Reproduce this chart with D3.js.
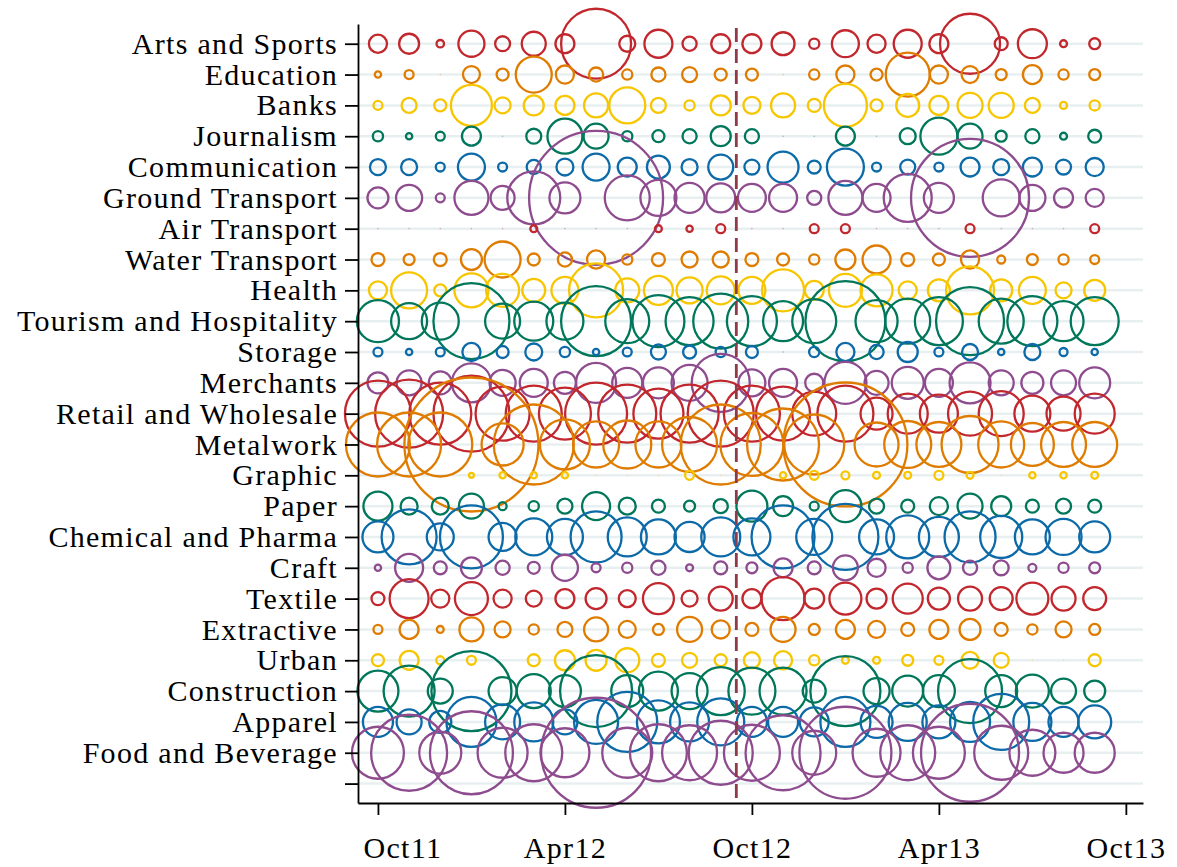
<!DOCTYPE html>
<html>
<head>
<meta charset="utf-8">
<script src="https://cdn.jsdelivr.net/npm/d3@7"></script>
<style>
  html, body { margin: 0; padding: 0; background: #ffffff; }
  svg { display: block; }
</style>
</head>
<body>
<svg id="chart" width="1177" height="867"></svg>
<script>
// Monthly activity by sector, Oct 2011 – Sep 2013 (bubble area ∝ value)
const months = ["Oct11","Nov11","Dec11","Jan12","Feb12","Mar12","Apr12","May12","Jun12","Jul12","Aug12","Sep12",
                "Oct12","Nov12","Dec12","Jan13","Feb13","Mar13","Apr13","May13","Jun13","Jul13","Aug13","Sep13"];
const tickMonths = [0, 6, 12, 18, 24];
const tickLabels = ["Oct11", "Apr12", "Oct12", "Apr13", "Oct13"];
const eventMonth = 11.5; // mid-September 2012

const categories = [
  "Arts and Sports", "Education", "Banks", "Journalism", "Communication", "Ground Transport",
  "Air Transport", "Water Transport", "Health", "Tourism and Hospitality", "Storage", "Merchants",
  "Retail and Wholesale", "Metalwork", "Graphic", "Paper", "Chemical and Pharma", "Craft",
  "Textile", "Extractive", "Urban", "Construction", "Apparel", "Food and Beverage"
];

const artsSports      = [41,50,7,85,28,72,45,612,32,98,25,45,45,66,13,91,41,98,45,450,21,105,6,15];
const education       = [5,10,0.1,36,18,162,41,25,13,25,28,18,18,0.1,13,41,18,242,41,36,15,45,13,15];
const banks           = [10,28,18,210,32,50,45,72,162,28,13,50,36,72,21,231,18,66,45,78,78,28,6,13];
const journalism      = [13,5,10,45,0.1,28,153,78,13,18,25,50,25,0.1,0.1,45,0.1,32,171,78,15,25,6,21];
const communication   = [32,32,10,91,10,25,36,91,45,66,32,78,28,120,21,171,10,28,10,45,32,45,28,41];
const groundTransport = [55,85,10,145,72,351,120,2245,253,162,113,105,98,98,25,145,98,288,113,1741,171,85,45,41];
const airTransport    = [0.1,0.1,0.1,0.1,0.1,6,0.1,0.1,0.1,6,5,10,0.1,0.1,10,10,0.1,0.1,0.1,10,0.1,0.1,0.1,10];
const waterTransport  = [21,15,21,55,162,18,25,41,13,21,32,32,21,18,13,50,98,21,18,41,8,15,13,10];
const health          = [41,162,18,145,136,66,91,365,72,105,85,98,91,221,45,136,128,41,61,288,61,91,32,55];
const tourism         = [221,162,171,722,153,190,171,613,242,338,288,378,313,200,242,800,221,253,288,578,253,313,200,288];
const storage         = [10,5,10,41,18,36,13,5,10,28,21,13,18,0.1,13,41,25,50,10,32,5,32,8,5];
const merchants       = [55,78,66,190,85,98,61,200,113,120,162,421,91,98,41,221,72,128,98,210,78,61,78,120];
const retail          = [545,578,481,722,365,392,338,481,421,313,421,545,392,365,242,392,128,200,181,242,253,162,145,200];
const metalwork       = [512,512,512,2245,221,800,313,265,288,265,378,800,496,648,450,1922,242,276,253,406,265,231,253,253];
const graphic         = [0,0.1,0,3,5,5,5,0.1,0.1,0.1,10,0.1,0,5,10,8,6,6,10,6,0.1,5,5,6];
const paper           = [105,36,36,78,8,13,28,98,36,21,15,25,120,50,10,128,28,21,41,78,50,21,28,21];
const chemical        = [120,378,91,496,98,171,162,325,190,153,113,190,171,496,162,545,153,231,200,325,221,153,162,120];
const craft           = [5,98,21,55,25,18,85,10,13,25,6,21,15,45,21,78,41,13,66,25,28,8,13,15];
const textile         = [21,190,41,136,41,32,45,55,36,120,32,72,45,231,50,128,50,113,61,72,66,128,72,66];
const extractive      = [10,45,6,72,32,13,28,72,36,15,78,41,21,78,15,45,36,21,45,55,21,13,32,15];
const urban           = [18,45,8,10,0,18,50,55,72,21,28,18,32,41,13,6,6,15,10,36,28,0.1,0.1,18];
const construction    = [210,325,78,800,98,145,128,648,128,190,162,288,276,276,66,613,85,120,128,512,128,136,78,55];
const apparel         = [113,78,61,313,153,190,78,242,450,231,190,276,113,113,105,313,128,181,136,200,392,181,113,136];
const foodBeverage    = [338,722,221,861,313,406,300,1513,313,406,378,512,392,703,242,1058,288,378,338,1201,365,265,200,200];

const seriesValues = [
  artsSports, education, banks, journalism, communication, groundTransport,
  airTransport, waterTransport, health, tourism, storage, merchants,
  retail, metalwork, graphic, paper, chemical, craft,
  textile, extractive, urban, construction, apparel, foodBeverage
];

// colour cycle, applied from the top row down
const palette = ["#c1272d", "#df7c00", "#f7c600", "#00775a", "#0c6aa8", "#8e4c8e"];

const svg = d3.select("#chart");
const n = categories.length;

const x = d3.scaleLinear().domain([-0.64, 24.55]).range([358, 1143]);
const y = d3.scaleLinear().domain([-0.63, 24.64]).range([803, 24]);
const r = d3.scaleSqrt().domain([0, 2245]).range([0, 67]);

const rowLevel = i => n - i; // top row sits highest

// light horizontal guides at every row level
svg.append("g")
  .selectAll("line")
  .data(d3.range(0, n + 1))
  .join("line")
  .attr("x1", x(-0.64)).attr("x2", x(24.55))
  .attr("y1", d => y(d)).attr("y2", d => y(d))
  .attr("stroke", "#e8eff1")
  .attr("stroke-width", 2.5);

// bubbles
const points = categories.flatMap((c, i) =>
  seriesValues[i].map((v, m) => ({ c, i, m, v }))
).filter(d => d.v > 0);

svg.append("g")
  .selectAll("circle")
  .data(points)
  .join("circle")
  .attr("cx", d => x(d.m))
  .attr("cy", d => y(rowLevel(d.i)))
  .attr("r", d => r(d.v))
  .attr("fill", "none")
  .attr("stroke", d => palette[d.i % palette.length])
  .attr("stroke-width", d => d.v < 1 ? 0.8 : 2.3)
  .attr("stroke-opacity", d => d.v < 1 ? 0.35 : 1);

// event marker
svg.append("line")
  .attr("x1", x(eventMonth)).attr("x2", x(eventMonth))
  .attr("y1", 28).attr("y2", y(-0.63))
  .attr("stroke", "#8f3a46")
  .attr("stroke-width", 2.8)
  .attr("stroke-dasharray", "14,7");

// axes
const fontFamily = "'Liberation Serif', 'Times New Roman', serif";

const yAxis = d3.axisLeft(y)
  .tickValues(d3.range(0, n + 1))
  .tickSize(13)
  .tickSizeOuter(0)
  .tickPadding(7)
  .tickFormat(d => d === 0 ? "" : categories[n - d]);

svg.append("g")
  .attr("transform", "translate(358,0)")
  .call(yAxis)
  .call(g => g.attr("font-family", fontFamily).attr("font-size", 30))
  .call(g => g.selectAll("path, line").attr("stroke", "#000").attr("stroke-width", 1.8))
  .call(g => g.selectAll("text").attr("fill", "#000").style("letter-spacing", "1.3px"));

const xAxis = d3.axisBottom(x)
  .tickValues(tickMonths)
  .tickSize(12)
  .tickSizeOuter(0)
  .tickPadding(22)
  .tickFormat((d, i) => tickLabels[i]);

svg.append("g")
  .attr("transform", "translate(0,803)")
  .call(xAxis)
  .call(g => g.attr("font-family", fontFamily).attr("font-size", 30))
  .call(g => g.selectAll("path, line").attr("stroke", "#000").attr("stroke-width", 1.8))
  .call(g => g.selectAll("text").attr("fill", "#000").style("letter-spacing", "1.3px"))
  // first label is kept clear of the vertical axis
  .call(g => g.selectAll(".tick text").filter(d => d === tickMonths[0])
    .attr("text-anchor", "start").attr("x", x(-0.64) - x(tickMonths[0]) + 5));
</script>
</body>
</html>
